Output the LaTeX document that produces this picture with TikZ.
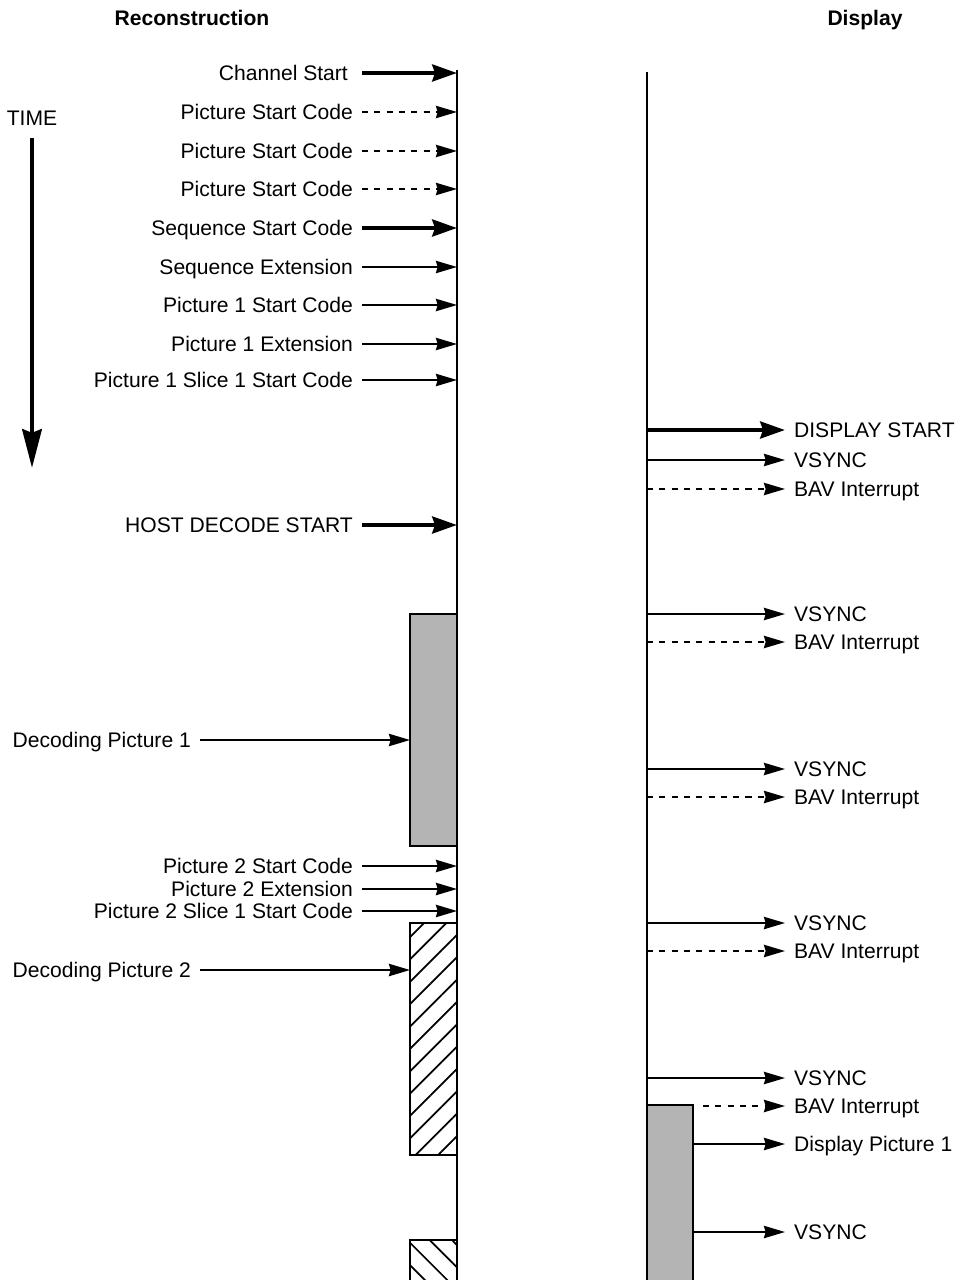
\documentclass[tikz,border=0pt]{standalone}
\usepackage{fontspec}
\setmainfont{Liberation Sans}
\usetikzlibrary{arrows.meta,patterns.meta}
\definecolor{boxgray}{RGB}{180,180,180}

\begin{document}
\begin{tikzpicture}[x=0.02cm,y=-0.02cm,
  lbl/.style={font=\fontsize{12}{14}\selectfont,inner xsep=5pt,inner ysep=0pt,text height=8.6pt,text depth=0pt},
  head/.style={font=\bfseries\fontsize{12}{14}\selectfont,inner sep=0pt,text height=8.6pt,text depth=0pt},
  arr/.style={line width=1.1pt,-{Stealth[length=12pt,width=7pt,inset=1pt]}},
  boldarr/.style={line width=2.6pt,-{Stealth[length=14pt,width=9.5pt,inset=1.5pt]}},
  dasharr/.style={arr,dash pattern=on 3.5pt off 3.5pt},
  frame/.style={line width=1.1pt}]
\useasboundingbox (0,0) rectangle (957,1280);

\node[head] (rechead) at (192,18) {Reconstruction};
\node[head] (disphead) at (865,18) {Display};

\node[lbl,inner xsep=0pt] (time) at (32,118) {TIME};
\coordinate (ttop) at (32,138);
\coordinate (tbot) at (32,468);
\draw[line width=2.8pt,-{Stealth[length=22pt,width=11pt,inset=2pt]}] (ttop) -- (tbot);

\coordinate (rec) at (457,0);
\coordinate (dsp) at (647,0);
\coordinate (boxw) at (410,0);
\coordinate (dboxe) at (693,0);
\coordinate (dbave) at (703,0);

\draw[frame,fill=boxgray] (410,614) rectangle (457,846);
\draw[frame,pattern={Lines[angle=45,distance=9pt,line width=1pt]}] (410,923) rectangle (457,1155);
\draw[frame,pattern={Lines[angle=-45,distance=9pt,line width=1pt]}] (410,1240) rectangle (457,1285);
\draw[frame,fill=boxgray] (647,1105) rectangle (693,1285);

\draw[frame] (457,70) -- (457,1285);
\draw[frame] (647,72) -- (647,1285);

\node[lbl,anchor=east] (chstart) at (357,73) {Channel Start};
\node[lbl,anchor=east] (pscA) at (362,112) {Picture Start Code};
\node[lbl,anchor=east] (pscB) at (362,151) {Picture Start Code};
\node[lbl,anchor=east] (pscC) at (362,189) {Picture Start Code};
\node[lbl,anchor=east] (seqstart) at (362,228) {Sequence Start Code};
\node[lbl,anchor=east] (seqext) at (362,267) {Sequence Extension};
\node[lbl,anchor=east] (pic1start) at (362,305) {Picture 1 Start Code};
\node[lbl,anchor=east] (pic1ext) at (362,344) {Picture 1 Extension};
\node[lbl,anchor=east] (pic1slice) at (362,380) {Picture 1 Slice 1 Start Code};
\node[lbl,anchor=east] (hoststart) at (362,525) {HOST DECODE START};
\node[lbl,anchor=east] (dec1) at (200,740) {Decoding Picture 1};
\node[lbl,anchor=east] (pic2start) at (362,866) {Picture 2 Start Code};
\node[lbl,anchor=east] (pic2ext) at (362,889) {Picture 2 Extension};
\node[lbl,anchor=east] (pic2slice) at (362,911) {Picture 2 Slice 1 Start Code};
\node[lbl,anchor=east] (dec2) at (200,970) {Decoding Picture 2};

\draw[boldarr] ([xshift=0.1cm]chstart.east) -- (chstart.east -| rec);
\draw[dasharr] (pscA.east) -- (pscA.east -| rec);
\draw[dasharr] (pscB.east) -- (pscB.east -| rec);
\draw[dasharr] (pscC.east) -- (pscC.east -| rec);
\draw[boldarr] (seqstart.east) -- (seqstart.east -| rec);
\draw[arr] (seqext.east) -- (seqext.east -| rec);
\draw[arr] (pic1start.east) -- (pic1start.east -| rec);
\draw[arr] (pic1ext.east) -- (pic1ext.east -| rec);
\draw[arr] (pic1slice.east) -- (pic1slice.east -| rec);
\draw[boldarr] (hoststart.east) -- (hoststart.east -| rec);
\draw[arr] (dec1.east) -- (dec1.east -| boxw);
\draw[arr] (pic2start.east) -- (pic2start.east -| rec);
\draw[arr] (pic2ext.east) -- (pic2ext.east -| rec);
\draw[arr] (pic2slice.east) -- (pic2slice.east -| rec);
\draw[arr] (dec2.east) -- (dec2.east -| boxw);

\node[lbl,anchor=west] (dispstart) at (785,430) {DISPLAY START};
\node[lbl,anchor=west] (vsA) at (785,460) {VSYNC};
\node[lbl,anchor=west] (bavA) at (785,489) {BAV Interrupt};
\node[lbl,anchor=west] (vsB) at (785,614) {VSYNC};
\node[lbl,anchor=west] (bavB) at (785,642) {BAV Interrupt};
\node[lbl,anchor=west] (vsC) at (785,769) {VSYNC};
\node[lbl,anchor=west] (bavC) at (785,797) {BAV Interrupt};
\node[lbl,anchor=west] (vsD) at (785,923) {VSYNC};
\node[lbl,anchor=west] (bavD) at (785,951) {BAV Interrupt};
\node[lbl,anchor=west] (vsE) at (785,1078) {VSYNC};
\node[lbl,anchor=west] (bavE) at (785,1106) {BAV Interrupt};
\node[lbl,anchor=west] (disp1) at (785,1144) {Display Picture 1};
\node[lbl,anchor=west] (vsF) at (785,1232) {VSYNC};

\draw[boldarr] (dispstart.west -| dsp) -- (dispstart.west);
\draw[arr] (vsA.west -| dsp) -- (vsA.west);
\draw[dasharr] (bavA.west -| dsp) -- (bavA.west);
\draw[arr] (vsB.west -| dsp) -- (vsB.west);
\draw[dasharr] (bavB.west -| dsp) -- (bavB.west);
\draw[arr] (vsC.west -| dsp) -- (vsC.west);
\draw[dasharr] (bavC.west -| dsp) -- (bavC.west);
\draw[arr] (vsD.west -| dsp) -- (vsD.west);
\draw[dasharr] (bavD.west -| dsp) -- (bavD.west);
\draw[arr] (vsE.west -| dsp) -- (vsE.west);
\draw[dasharr] (bavE.west -| dbave) -- (bavE.west);
\draw[arr] (disp1.west -| dboxe) -- (disp1.west);
\draw[arr] (vsF.west -| dboxe) -- (vsF.west);
\end{tikzpicture}
\end{document}
